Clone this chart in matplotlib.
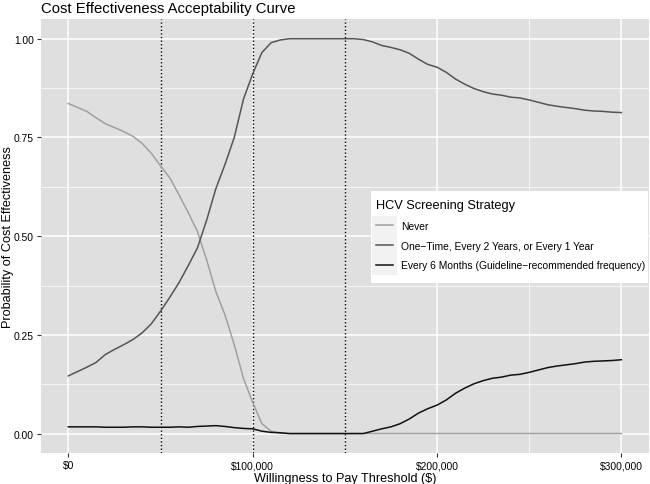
import matplotlib
matplotlib.use("Agg")
import matplotlib.pyplot as plt
from matplotlib.patches import Rectangle
import numpy as np

plt.rcParams['font.family'] = ['Liberation Sans', 'DejaVu Sans']

wtp = np.arange(0, 300001, 5000)

never = [0.836, 0.826, 0.816, 0.800, 0.785, 0.775, 0.765, 0.753, 0.735, 0.710,
         0.678, 0.648, 0.605, 0.560, 0.512, 0.440, 0.360, 0.300, 0.225, 0.140,
         0.079, 0.025, 0.006, 0.001] + [0.0] * 37

one_time = [0.146, 0.157, 0.168, 0.180, 0.200, 0.213, 0.225, 0.238, 0.255, 0.278,
            0.310, 0.345, 0.382, 0.425, 0.470, 0.540, 0.620, 0.682, 0.750, 0.847,
            0.911, 0.965, 0.990, 0.997, 1.000, 1.000, 1.000, 1.000, 1.000, 1.000,
            1.000, 1.000, 0.998, 0.992, 0.983, 0.978, 0.972, 0.963, 0.948, 0.935,
            0.928, 0.915, 0.898, 0.885, 0.874, 0.866, 0.860, 0.857, 0.852, 0.850,
            0.845, 0.839, 0.833, 0.829, 0.826, 0.823, 0.819, 0.817, 0.816, 0.814,
            0.813]

six_months = [0.017, 0.017, 0.017, 0.017, 0.016, 0.016, 0.016, 0.017, 0.017, 0.016,
              0.016, 0.016, 0.017, 0.016, 0.018, 0.019, 0.020, 0.018, 0.015, 0.013,
              0.012, 0.006, 0.003, 0.002, 0.000, 0.000, 0.000, 0.000, 0.000, 0.000,
              0.000, 0.000, 0.000, 0.006, 0.012, 0.017, 0.025, 0.037, 0.052, 0.063,
              0.072, 0.085, 0.102, 0.115, 0.126, 0.134, 0.140, 0.143, 0.148, 0.150,
              0.155, 0.161, 0.167, 0.171, 0.174, 0.177, 0.181, 0.183, 0.184, 0.185,
              0.187]

labels = ["Never", "One\u2212Time, Every 2 Years, or Every 1 Year",
          "Every 6 Months (Guideline\u2212recommended frequency)"]
colors = ["#a0a0a0", "#555555", "#111111"]
vlines = [50000, 100000, 150000]
xticks = [0, 100000, 200000, 300000]
xticklabels = ["$0", "$100,000", "$200,000", "$300,000"]
yticks = [0.0, 0.25, 0.5, 0.75, 1.0]
yticklabels = ["0.00", "0.25", "0.50", "0.75", "1.00"]

W, H = 650, 485
fig = plt.figure(figsize=(6.5, 4.85), dpi=100)
ax = fig.add_axes([40.7 / W, 1 - 454.3 / H, (649 - 40.7) / W, (454.3 - 20) / H])
ax.set_facecolor("#dfdfdf")
for s in ax.spines.values():
    s.set_visible(False)

ax.set_xlim(-15000, 315000)
ax.set_ylim(-0.05, 1.05)

# grid
for y in [0.125, 0.375, 0.625, 0.875]:
    ax.axhline(y, color="white", lw=0.5, zorder=0.5)
for x in [50000, 150000, 250000]:
    ax.axvline(x, color="white", lw=0.5, zorder=0.5)
for y in yticks:
    ax.axhline(y, color="white", lw=1.1, zorder=0.6)
for x in xticks:
    ax.axvline(x, color="white", lw=1.1, zorder=0.6)

for v in vlines:
    ax.axvline(v, color="black", lw=1.0, ls=(0, (1, 1.6)), zorder=1)

for series, lab, c in zip([never, one_time, six_months], labels, colors):
    ax.plot(wtp, series, color=c, lw=1.1, label=lab, zorder=2)

ax.set_xticks(xticks)
ax.set_xticklabels(xticklabels)
ax.set_yticks(yticks)
ax.set_yticklabels(yticklabels)
ax.tick_params(axis="both", length=3, width=0.8, color="#333333", labelsize=7.4,
               labelcolor="#000000", pad=2)

ax.set_xlabel("Willingness to Pay Threshold ($)", fontsize=9.1, labelpad=1)
ax.set_ylabel("Probability of Cost Effectiveness", fontsize=9.1, va="center")
ax.yaxis.set_label_coords((8.5 - 40.7) / (649 - 40.7), 0.5)
ax.set_title("Cost Effectiveness Acceptability Curve", fontsize=10.7, loc="left", pad=5)

# legend background box and key backgrounds (pixel coords from top-left)
def fig_rect(x0, y0, x1, y1, color, z):
    fig.patches.append(Rectangle((x0 / W, 1 - y1 / H), (x1 - x0) / W, (y1 - y0) / H,
                                 transform=fig.transFigure, facecolor=color,
                                 edgecolor="none", zorder=z))

fig_rect(371, 192, 648, 284, "white", 3)
fig_rect(372, 217, 397, 276, "#f2f2f2", 3.5)

leg = fig.legend(loc="upper left", bbox_to_anchor=(376 / W, 1 - 200 / H), frameon=False,
                 title="HCV Screening Strategy", fontsize=7.4, title_fontsize=9.2,
                 handlelength=1.7, handletextpad=0.75, labelspacing=0.95,
                 borderpad=0, borderaxespad=0)
leg._legend_box.align = "left"
leg.set_zorder(5)

fig.savefig("out.png", dpi=100)
